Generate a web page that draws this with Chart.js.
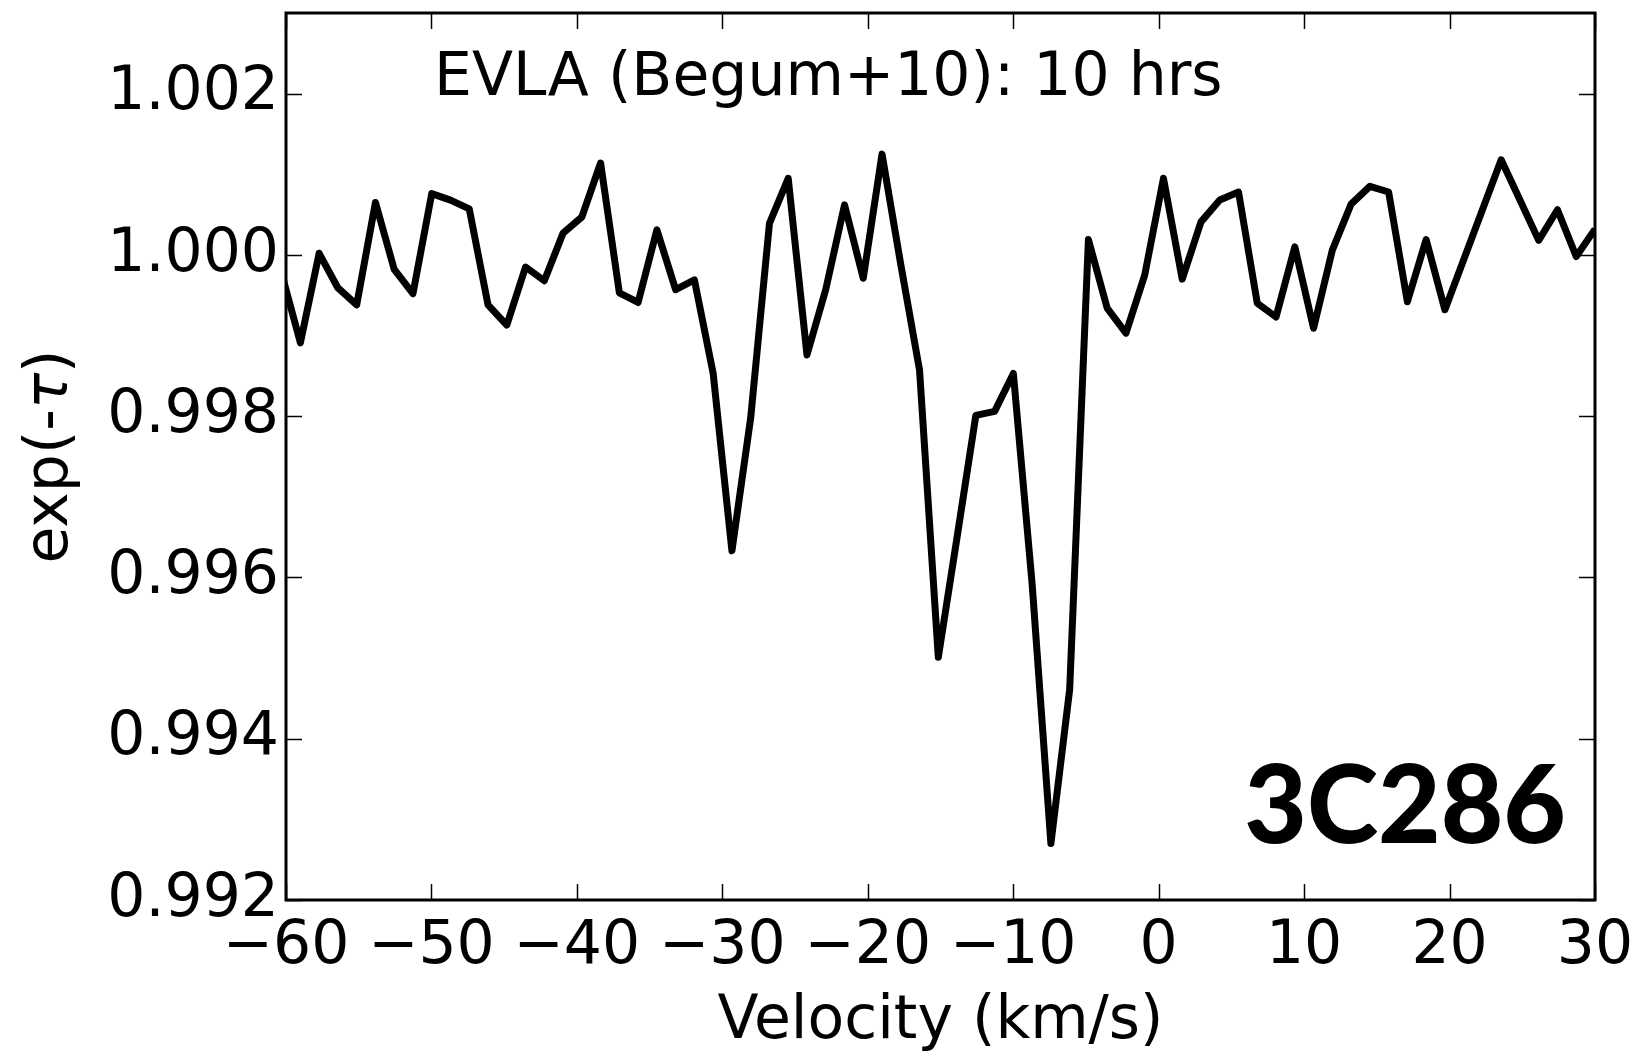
<!DOCTYPE html>
<html><head><meta charset="utf-8">
<script src="https://cdn.jsdelivr.net/npm/chart.js@4.4.0/dist/chart.umd.min.js"></script>
<style>html,body{margin:0;padding:0;background:#fff;} canvas{display:block;}</style>
</head><body>
<canvas id="c" width="1643" height="1054"></canvas>
<script>
// ---- data ----
const velocity = [-60.30, -59.01, -57.72, -56.43, -55.14, -53.85, -52.56, -51.27, -49.98, -48.69,
  -47.40, -46.11, -44.82, -43.53, -42.24, -40.95, -39.66, -38.37, -37.08, -35.79,
  -34.50, -33.21, -31.92, -30.63, -29.34, -28.05, -26.76, -25.47, -24.18, -22.89,
  -21.60, -20.31, -19.02, -17.73, -16.44, -15.15, -13.86, -12.57, -11.28, -9.99,
  -8.70, -7.41, -6.12, -4.83, -3.54, -2.25, -0.96, 0.33, 1.62, 2.91,
  4.20, 5.49, 6.78, 8.07, 9.36, 10.65, 11.94, 13.23, 14.52, 15.81,
  17.10, 18.39, 19.68, 20.97, 22.26, 23.55, 24.84, 26.13, 27.42, 28.71, 30.00];
const expTau = [0.99977, 0.99891, 1.00002, 0.99959, 0.99938, 1.00065, 0.99982, 0.99952, 1.00076, 1.00068,
  1.00057, 0.99938, 0.99913, 0.99985, 0.99968, 1.00027, 1.00047, 1.00114, 0.99953, 0.99941,
  1.00031, 0.99957, 0.99969, 0.99853, 0.99633, 0.99798, 1.00039, 1.00095, 0.99876, 0.99957,
  1.00062, 0.99971, 1.00125, 0.99988, 0.99857, 0.99501, 0.99650, 0.99801, 0.99806, 0.99853,
  0.99592, 0.99270, 0.99461, 1.00019, 0.99934, 0.99903, 0.99975, 1.00095, 0.99970, 1.00041,
  1.00068, 1.00078, 0.99940, 0.99923, 1.00010, 0.99909, 1.00006, 1.00063, 1.00085, 1.00078,
  0.99942, 1.00019, 0.99932, 0.99994, 1.00056, 1.00118, 1.00068, 1.00018, 1.00056, 0.99998, 1.00032];
const xTickValues = [-60, -50, -40, -30, -20, -10, 0, 10, 20, 30];
const xTickLabels = ['\u221260', '\u221250', '\u221240', '\u221230', '\u221220', '\u221210', '0', '10', '20', '30'];
const yTickValues = [0.992, 0.994, 0.996, 0.998, 1.000, 1.002];
const yTickLabels = ['0.992', '0.994', '0.996', '0.998', '1.000', '1.002'];
const xRange = [-60, 30];
const yRange = [0.992, 1.003];
const xAxisTitle = 'Velocity (km/s)';
const yAxisTitleParts = [['exp(-', false], ['\u03c4', true], [')', false]];
const annotationText = 'EVLA (Begum+10): 10 hrs';
const sourceName = '3C286';

const FONT = '"DejaVu Sans", sans-serif';

const framePlugin = {
  id: 'frame',
  afterDatasetsDraw(chart) {
    const {ctx, chartArea: a, scales: {x, y}} = chart;
    ctx.save();
    // ticks (inward, all four sides)
    ctx.strokeStyle = '#000';
    ctx.lineWidth = 1.5;
    const L = 16;
    ctx.beginPath();
    xTickValues.forEach(v => {
      const px = Math.round(x.getPixelForValue(v)) + 0.5;
      ctx.moveTo(px, a.bottom); ctx.lineTo(px, a.bottom - L);
      ctx.moveTo(px, a.top); ctx.lineTo(px, a.top + L);
    });
    yTickValues.forEach(v => {
      const py = Math.round(y.getPixelForValue(v)) + 0.5;
      ctx.moveTo(a.left, py); ctx.lineTo(a.left + L, py);
      ctx.moveTo(a.right, py); ctx.lineTo(a.right - L, py);
    });
    ctx.stroke();
    // frame
    ctx.lineWidth = 3;
    ctx.strokeRect(a.left, a.top, a.right - a.left, a.bottom - a.top);
    // annotation texts
    ctx.fillStyle = '#000';
    ctx.font = '60px ' + FONT;
    ctx.textAlign = 'left';
    ctx.textBaseline = 'alphabetic';
    ctx.fillText(annotationText, a.left + 148, a.top + 82);
    ctx.font = '900 108px Lato, sans-serif';
    ctx.textAlign = 'right';
    ctx.fillText(sourceName, a.right - 29, a.bottom - 57);
    // y axis title with italic tau
    const widths = yAxisTitleParts.map(([t, it]) => {
      ctx.font = (it ? 'oblique ' : '') + '60px ' + FONT;
      return ctx.measureText(t).width;
    });
    const total = widths.reduce((s, w) => s + w, 0);
    ctx.translate(67, (a.top + a.bottom) / 2);
    ctx.rotate(-Math.PI / 2);
    ctx.textAlign = 'left';
    let cx = -total / 2;
    yAxisTitleParts.forEach(([t, it], i) => {
      ctx.font = (it ? 'oblique ' : '') + '60px ' + FONT;
      ctx.fillText(t, cx, 0);
      cx += widths[i];
    });
    ctx.restore();
  }
};

new Chart(document.getElementById('c'), {
  type: 'line',
  data: {
    datasets: [{
      data: velocity.map((v, i) => ({x: v, y: expTau[i]})),
      borderColor: '#000',
      borderWidth: 7,
      pointRadius: 0,
      tension: 0,
      borderJoinStyle: 'round',
      borderCapStyle: 'butt',
      fill: false,
      clip: 0
    }]
  },
  options: {
    responsive: false,
    animation: false,
    events: [],
    layout: {padding: {top: 13, right: 48, left: 0, bottom: 0}},
    plugins: {legend: {display: false}, tooltip: {enabled: false}},
    scales: {
      x: {
        type: 'linear',
        min: xRange[0], max: xRange[1],
        afterBuildTicks: s => { s.ticks = xTickValues.map(v => ({value: v})); },
        afterFit: s => { s.height = 154; s.paddingLeft = 0; s.paddingRight = 0; },
        grid: {display: false, drawTicks: false},
        border: {display: false},
        ticks: {
          color: '#000', padding: 11, maxRotation: 0, autoSkip: false,
          font: {family: FONT, size: 60},
          callback: (v, i) => xTickLabels[i]
        },
        title: {display: true, text: xAxisTitle, color: '#000',
          font: {family: FONT, size: 60}, padding: {top: 0, bottom: -4}}
      },
      y: {
        type: 'linear',
        min: yRange[0], max: yRange[1],
        afterBuildTicks: s => { s.ticks = yTickValues.map(v => ({value: v})); },
        afterFit: s => { s.width = 286; s.paddingTop = 0; s.paddingBottom = 0; },
        grid: {display: false, drawTicks: false},
        border: {display: false},
        ticks: {
          color: '#000', padding: 7, autoSkip: false,
          font: {family: FONT, size: 60},
          callback: (v, i) => yTickLabels[i]
        }
      }
    }
  },
  plugins: [framePlugin]
});
</script>
</body></html>
